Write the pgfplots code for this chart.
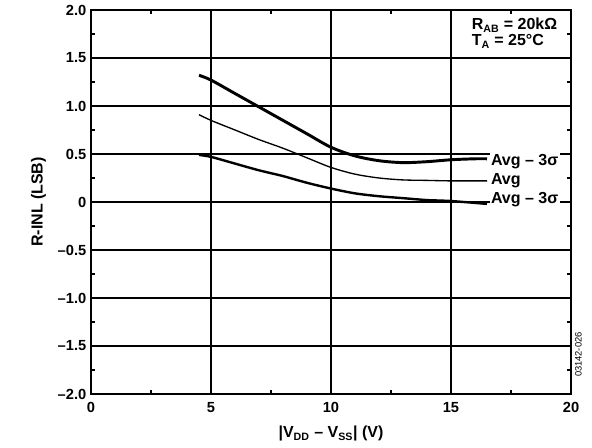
\documentclass[border=0pt]{standalone}
\usepackage{pgfplots}
\pgfplotsset{compat=1.18}
\usepackage{fontspec}
\setmainfont{Liberation Sans}
\begin{document}
\begin{tikzpicture}[x=1pt,y=1pt]
\begin{axis}[
  name=ax,
  scale only axis,
  width=360pt, height=288pt,
  xmin=0, xmax=20, ymin=-2, ymax=2,
  xtick={0,5,10,15,20},
  ytick={-2,-1.5,-1,-0.5,0,0.5,1,1.5,2},
  yticklabels={\textbf{–2.0},\textbf{–1.5},\textbf{–1.0},\textbf{–0.5},\textbf{0},\textbf{0.5},\textbf{1.0},\textbf{1.5},\textbf{2.0}},
  xticklabels={\textbf{0},\textbf{5},\textbf{10},\textbf{15},\textbf{20}},
  minor y tick num=1,
  minor x tick num=1,
  grid=major,
  major grid style={black, line width=0.8pt},
  axis line style={line width=1.2pt},
  tick style={black, line width=0.8pt},
  tick align=inside,
  major tick length=4pt,
  minor tick length=3pt,
  ticklabel style={font=\fontsize{11}{13}\selectfont},
  xticklabel style={yshift=-3pt},
  xlabel={\textbf{|V\textsubscript{DD} – V\textsubscript{SS}| (V)}},
  ylabel={\textbf{R-INL (LSB)}},
  label style={font=\fontsize{12}{14}\selectfont},
  xlabel style={yshift=-3pt},
  ylabel style={yshift=2pt},
  clip=false,
]
\addplot[black, line width=2.2pt, smooth] coordinates {
(4.5,1.32)(5,1.27)(6,1.13)(7,0.99)(8,0.85)(9,0.71)(10,0.57)(11,0.48)(12,0.43)(13,0.41)(14,0.42)(15,0.44)(16,0.45)(16.5,0.45)};
\addplot[black, line width=1.0pt, smooth] coordinates {
(4.5,0.91)(5,0.85)(6,0.75)(7,0.65)(8,0.56)(9,0.46)(10,0.36)(11,0.29)(12,0.25)(13,0.23)(14,0.225)(15,0.22)(16.5,0.22)};
\addplot[black, line width=1.8pt, smooth] coordinates {
(4.5,0.49)(5,0.47)(6,0.40)(7,0.33)(8,0.27)(9,0.20)(10,0.14)(11,0.09)(12,0.06)(13,0.04)(14,0.02)(15,0.01)(16.5,-0.02)};
\node[anchor=west, fill=white, inner sep=1pt, font=\fontsize{12}{14}\selectfont\bfseries] at (axis cs:16.6,0.42) {Avg – 3σ};
\node[anchor=west, fill=white, inner sep=1pt, font=\fontsize{12}{14}\selectfont\bfseries] at (axis cs:16.6,0.22) {Avg};
\node[anchor=west, fill=white, inner sep=1pt, font=\fontsize{12}{14}\selectfont\bfseries] at (axis cs:16.6,0.02) {Avg – 3σ};
\node[anchor=north west, fill=white, inner sep=1pt, align=left, font=\fontsize{12}{12}\selectfont\bfseries] at (axis cs:15.8,1.93) {R\textsubscript{AB} = 20kΩ\\T\textsubscript{A} = 25°C};
\node[rotate=90, anchor=center, font=\fontsize{7}{8}\selectfont, inner sep=0pt] at ([xshift=5.5pt]axis cs:20,-1.59) {03142-026};
\end{axis}
\pgfresetboundingbox
\useasboundingbox ([xshift=-68.25pt,yshift=-40.5pt]ax.south west) rectangle ([xshift=15.75pt,yshift=7.5pt]ax.north east);
\end{tikzpicture}
\end{document}
